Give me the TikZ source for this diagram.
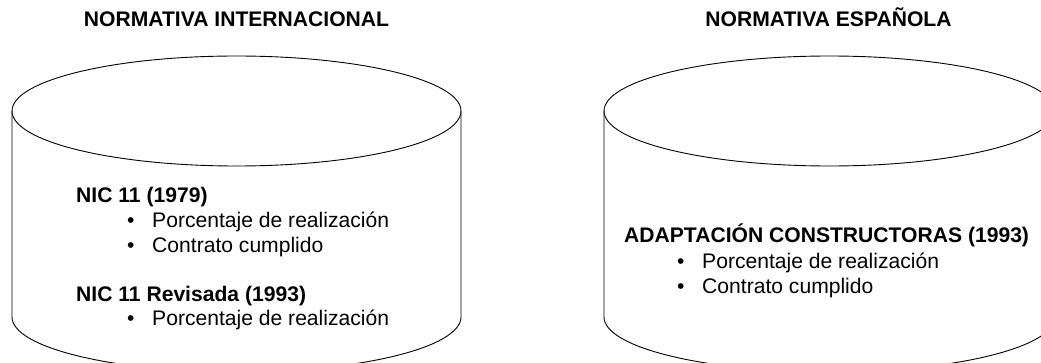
\documentclass[tikz,border=0pt]{standalone}
\usepackage{fontspec}
\setmainfont{Liberation Sans}
\begin{document}
\begin{tikzpicture}[x=1pt,y=1pt,
  cyl/.style={line width=0.9pt,black},
  title/.style={anchor=base,inner sep=0pt,font=\fontsize{21.1}{24}\selectfont\bfseries},
  head/.style={anchor=base west,inner sep=0pt,font=\fontsize{21.1}{25}\selectfont\bfseries},
  item/.style={anchor=base west,inner sep=0pt,font=\fontsize{21.1}{25}\selectfont},
  bul/.style={anchor=base west,inner sep=0pt,font=\fontsize{21.1}{25}\selectfont}]
\useasboundingbox (0,0) rectangle (1041,362);
\clip (0,0) rectangle (1041,362);
% left cylinder
\draw[cyl] (236.5,251) ellipse[x radius=224.5, y radius=55];
\draw[cyl] (12,251) -- (12,45) arc[start angle=180,end angle=360,x radius=224.5,y radius=55] -- (461,251);
% right cylinder
\draw[cyl] (829.5,251) ellipse[x radius=225.5, y radius=55];
\draw[cyl] (604,251) -- (604,45) arc[start angle=180,end angle=360,x radius=225.5,y radius=55] -- (1055,251);
% titles
\node[title] (t1) at (236.5,335) {NORMATIVA INTERNACIONAL};
\node[title] (t2) at (828.5,335) {NORMATIVA ESPAÑOLA};
% left text
\node[head] (h1) at (76,160) {NIC 11 (1979)};
\node[bul] (b11) at (127,135) {•};
\node[item] (i11) at (152,135) {Porcentaje de realización};
\node[bul] (b12) at (127,110) {•};
\node[item] (i12) at (152,110) {Contrato cumplido};
\node[head] (h2) at (76,61) {NIC 11 Revisada (1993)};
\node[bul] (b21) at (127,37) {•};
\node[item] (i21) at (152,37) {Porcentaje de realización};
% right text
\node[head] (h3) at (624,120) {ADAPTACIÓN CONSTRUCTORAS (1993)};
\node[bul] (b31) at (677,94) {•};
\node[item] (i31) at (702,94) {Porcentaje de realización};
\node[bul] (b32) at (677,69) {•};
\node[item] (i32) at (702,69) {Contrato cumplido};
\end{tikzpicture}
\end{document}
